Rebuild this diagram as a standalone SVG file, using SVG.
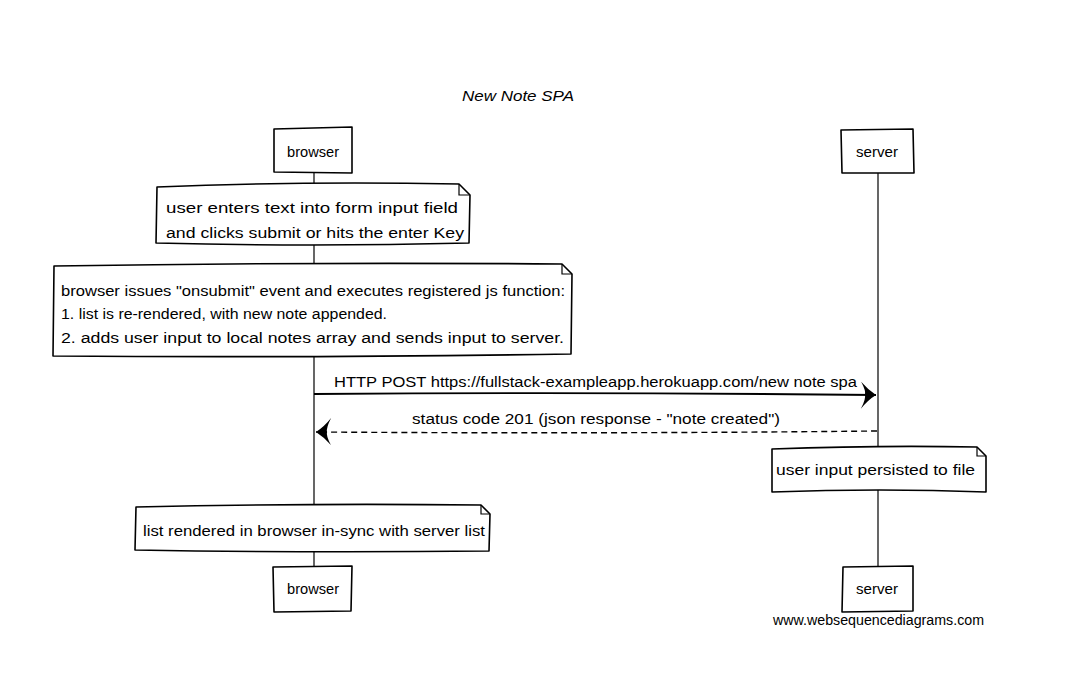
<svg xmlns="http://www.w3.org/2000/svg" width="1073" height="690" viewBox="0 0 1073 690">
<defs>
<style>
.box{fill:#fff;stroke:#000;stroke-width:1.6;stroke-linejoin:round}
.life{stroke:#000;stroke-width:1.2;fill:none}
.t{font-family:"Liberation Sans",Arial,sans-serif;font-size:14px;fill:#000}
.msg{stroke:#000;stroke-width:1.8;fill:none}
.dash{stroke-dasharray:6,4;stroke-width:1.4}
</style>
<marker id="ah" markerWidth="20" markerHeight="30" refX="16" refY="14" orient="auto" markerUnits="userSpaceOnUse">
<path d="M1,1 Q8,9 16,14 Q8,19 1,28 Q6,18 5,14 Q6,10 1,1 Z" fill="#000"/>
</marker>
</defs>
<rect width="1073" height="690" fill="#fff"/>
<text class="t" x="518" y="101" text-anchor="middle" font-style="italic" textLength="112" lengthAdjust="spacingAndGlyphs">New Note SPA</text>

<g id="lifelines">
<path class="life" d="M314,173 L314,566"/>
<path class="life" d="M878,173 L878,566"/>
</g>

<g id="browser-top">
<path class="box" d="M274,129 L352,127 L352,173 L274,172 Z"/>
<text class="t" x="313" y="157" text-anchor="middle" textLength="52" lengthAdjust="spacingAndGlyphs">browser</text>
</g>
<g id="server-top">
<path class="box" d="M841,130 L913,129 L914,173 L842,173 Z"/>
<text class="t" x="877" y="157" text-anchor="middle" textLength="42" lengthAdjust="spacingAndGlyphs">server</text>
</g>

<g id="note1">
<path class="box" d="M157,187 Q300,181 459,184 L470,195 L469,243 Q310,247 156,243 Z"/>
<path class="life" d="M459,184 L459,195 L470,195"/>
<text class="t" x="166" y="213" textLength="292" lengthAdjust="spacingAndGlyphs">user enters text into form input field</text>
<text class="t" x="166" y="238" textLength="298" lengthAdjust="spacingAndGlyphs">and clicks submit or hits the enter Key</text>
</g>

<g id="note2">
<path class="box" d="M54,266 Q300,262 562,264 L572,274 L571,354 Q300,358 53,356 Z"/>
<path class="life" d="M562,264 L562,274 L572,274"/>
<text class="t" x="61" y="296" textLength="504" lengthAdjust="spacingAndGlyphs">browser issues "onsubmit" event and executes registered js function:</text>
<text class="t" x="61" y="319" textLength="326" lengthAdjust="spacingAndGlyphs">1. list is re-rendered, with new note appended.</text>
<text class="t" x="61" y="343" textLength="503" lengthAdjust="spacingAndGlyphs">2. adds user input to local notes array and sends input to server.</text>
</g>

<g id="connectors">
<path class="msg" d="M314,394 Q600,392 876,395" marker-end="url(#ah)"/>
<text class="t" x="334" y="387" textLength="523" lengthAdjust="spacingAndGlyphs">HTTP POST https://fullstack-exampleapp.herokuapp.com/new note spa</text>
<path class="msg dash" d="M877,431 Q600,434 316,432" marker-end="url(#ah)"/>
<text class="t" x="412" y="424" textLength="368" lengthAdjust="spacingAndGlyphs">status code 201 (json response - "note created")</text>
</g>

<g id="note3">
<path class="box" d="M772,449 Q880,445 977,447 L986,456 L986,492 Q880,488 772,492 Z"/>
<path class="life" d="M977,447 L977,456 L986,456"/>
<text class="t" x="776" y="475" textLength="199" lengthAdjust="spacingAndGlyphs">user input persisted to file</text>
</g>

<g id="note4">
<path class="box" d="M136,507 Q310,503 481,505 L490,514 L489,551 Q310,553 135,550 Z"/>
<path class="life" d="M481,505 L481,514 L490,514"/>
<text class="t" x="143" y="536" textLength="342" lengthAdjust="spacingAndGlyphs">list rendered in browser in-sync with server list</text>
</g>

<g id="browser-bottom">
<path class="box" d="M273,567 L352,566 L351,611 L274,612 Z"/>
<text class="t" x="313" y="594" text-anchor="middle" textLength="52" lengthAdjust="spacingAndGlyphs">browser</text>
</g>
<g id="server-bottom">
<path class="box" d="M843,567 L913,566 L913,611 L842,612 Z"/>
<text class="t" x="877" y="594" text-anchor="middle" textLength="42" lengthAdjust="spacingAndGlyphs">server</text>
</g>

<text class="t" x="773" y="625" textLength="211" lengthAdjust="spacingAndGlyphs">www.websequencediagrams.com</text>
</svg>
